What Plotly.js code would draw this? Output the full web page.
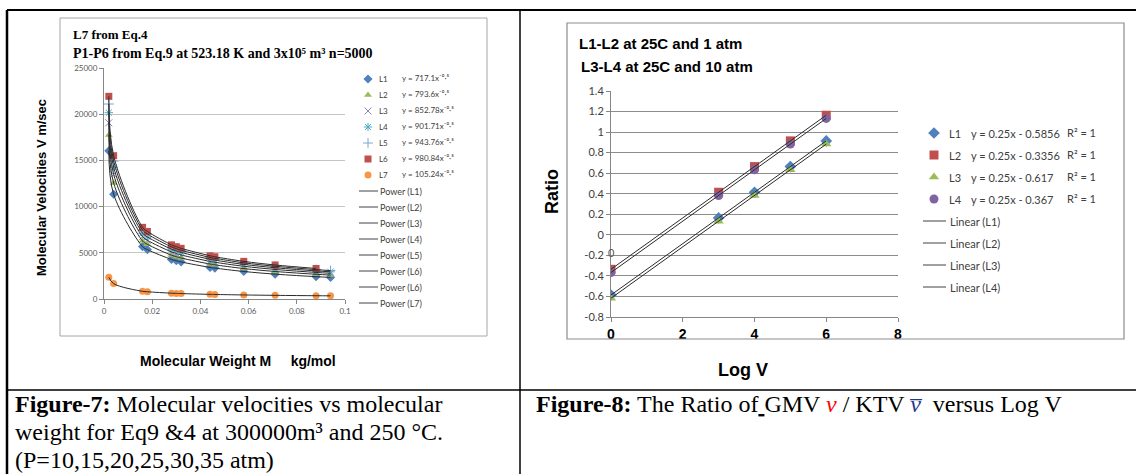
<!DOCTYPE html>
<html><head><meta charset="utf-8">
<script src="https://cdn.plot.ly/plotly-3.0.1.min.js"></script>
<style>html,body{margin:0;padding:0;background:#fff;}#chart{width:1136px;height:474px;}</style>
</head><body><div id="chart"></div>
<script>
// ---------------- Figure-7 data ----------------
const molWeight   = [0.002,0.004,0.016,0.018,0.028,0.030,0.032,0.044,0.046,0.058,0.071,0.088,0.094];
const molWeightL6 = [0.002,0.004,0.016,0.018,0.028,0.030,0.032,0.044,0.046,0.058,0.071,0.088];
const velL1 = [16035,11338,5669,5345,4285,4140,4009,3418,3344,2977,2691,2417,2339];
const velL2 = [17746,12548,6274,5915,4743,4582,4436,3783,3701,3295,2978,2675,2589];
const velL3 = [19069,13483,6742,6357,5096,4924,4767,4065,3977,3541,3200,2875,2782];
const velL4 = [20163,14257,7129,6721,5389,5207,5041,4298,4205,3744,3384,3040,2941];
const velL5 = [21104,14922,7461,7035,5640,5449,5276,4499,4401,3918,3542,3181,3079];
const velL6 = [21933,15508,7755,7311,5862,5663,5483,4676,4574,4072,3681,3306];
const velL7 = [2353,1664,832,784,629,608,588,502,491,437,395,355,343];
const fig7Names = ['L1','L2','L3','L4','L5','L6','L7'];
const fig7Equations = ['y = 717.1x⁻⁰·⁵','y = 793.6x⁻⁰·⁵','y = 852.78x⁻⁰·⁵',
  'y = 901.71x⁻⁰·⁵','y = 943.76x⁻⁰·⁵','y = 980.84x⁻⁰·⁵','y = 105.24x⁻⁰·⁵'];
const fig7TrendNames = ['Power (L1)','Power (L2)','Power (L3)','Power (L4)','Power (L5)','Power (L6)','Power (L6)','Power (L7)'];
const fig7XTicks = [0,0.02,0.04,0.06,0.08,0.1];
const fig7XTickText = ['0','0.02','0.04','0.06','0.08','0.1'];
const fig7YTicks = [0,5000,10000,15000,20000,25000];

// ---------------- Figure-8 data ----------------
const logV = [0,3,4,5,6];
const ratioL1 = [-0.5856,0.1644,0.4144,0.6644,0.9144];
const ratioL2 = [-0.3356,0.4144,0.6644,0.9144,1.1644];
const ratioL3 = [-0.617,0.133,0.383,0.633,0.883];
const ratioL4 = [-0.367,0.383,0.633,0.883,1.133];
const fig8Names = ['L1','L2','L3','L4'];
const fig8Equations = ['y = 0.25x - 0.5856','y = 0.25x - 0.3356','y = 0.25x - 0.617','y = 0.25x - 0.367'];
const fig8R2 = ['R² = 1','R² = 1','R² = 1','R² = 1'];
const fig8TrendNames = ['Linear (L1)','Linear (L2)','Linear (L3)','Linear (L4)'];
const fig8XTicks = [0,2,4,6,8];
const fig8YTicks = [-0.8,-0.6,-0.4,-0.2,0,0.2,0.4,0.6,0.8,1,1.2,1.4];
const fig8YTickText = ['-0.8','-0.6','-0.4','-0.2','0','0.2','0.4','0.6','0.8','1','1.2','1.4'];
const fig8LabelX = [0];
const fig8LabelY = [-0.17];
const fig8LabelText = ['0'];

// ---------------- styles ----------------
const SANS = 'Lato, "Noto Sans", "DejaVu Sans", sans-serif';
const ARIAL = '"Liberation Sans", Arial, sans-serif';
const SERIF = '"Liberation Serif", "Times New Roman", serif';
const fig7Styles = [
  {symbol:'diamond', color:'#4F81BD', size:7},
  {symbol:'triangle-up', color:'#9BBB59', size:7},
  {symbol:'x-thin-open', color:'#9384C0', size:7, open:true},
  {symbol:'asterisk-open', color:'#4BACC6', size:7, open:true},
  {symbol:'cross-thin-open', color:'#7FA4D4', size:7, open:true},
  {symbol:'square', color:'#C0504D', size:7},
  {symbol:'circle', color:'#F79646', size:7}
];
const fig8Styles = [
  {symbol:'diamond', color:'#4F81BD', size:9},
  {symbol:'square', color:'#C0504D', size:9},
  {symbol:'triangle-up', color:'#9BBB59', size:9},
  {symbol:'circle', color:'#8064A2', size:9}
];
function mk(s){ return {symbol:s.symbol, size:s.size, color:s.color, line:{color:s.color, width:s.open?1:0}}; }

const fig7X = [molWeight,molWeight,molWeight,molWeight,molWeight,molWeightL6,molWeight];
const fig7Y = [velL1,velL2,velL3,velL4,velL5,velL6,velL7];
const fig8Y = [ratioL1,ratioL2,ratioL3,ratioL4];

const traces = [];
fig7Y.forEach((ys,i)=>traces.push({type:'scatter',mode:'markers',x:fig7X[i],y:ys,xaxis:'x',yaxis:'y',marker:mk(fig7Styles[i]),hoverinfo:'skip'}));
fig7Y.forEach((ys,i)=>traces.push({type:'scatter',mode:'lines',x:fig7X[i],y:ys,xaxis:'x',yaxis:'y',line:{color:'#2b2b2b',width:1,shape:'spline',smoothing:1},hoverinfo:'skip'}));
fig8Y.forEach((ys,i)=>traces.push({type:'scatter',mode:'markers',x:logV,y:ys,xaxis:'x2',yaxis:'y2',marker:mk(fig8Styles[i]),hoverinfo:'skip'}));
fig8Y.forEach((ys,i)=>traces.push({type:'scatter',mode:'lines',x:logV,y:ys,xaxis:'x2',yaxis:'y2',line:{color:'#2b2b2b',width:1},hoverinfo:'skip'}));

// legend keys on page-pixel overlay axes (x3/y3)
const L7row = i => 79 + 16*i;
const L8row = j => 133 + 22*j;
fig7Styles.forEach((s,i)=>traces.push({type:'scatter',mode:'markers',x:[368],y:[L7row(i)],xaxis:'x3',yaxis:'y3',marker:mk(s),hoverinfo:'skip',cliponaxis:false}));
fig8Styles.forEach((s,j)=>traces.push({type:'scatter',mode:'markers',x:[934],y:[L8row(j)],xaxis:'x3',yaxis:'y3',marker:mk(s),hoverinfo:'skip',cliponaxis:false}));

const ann = [];
function txt(x,y,text,font,xa,extra){ ann.push(Object.assign({xref:'x3',yref:'y3',x:x,y:y,text:text,showarrow:false,xanchor:xa||'left',yanchor:'middle',borderpad:0,borderwidth:0,font:font},extra||{})); }

// titles
txt(73,34,'<b>L7 from Eq.4</b>',{family:SERIF,size:13,color:'#000'});
txt(73,53,'<b>P1-P6 from Eq.9 at 523.18 K and 3x10⁵ m³ n=5000</b>',{family:SERIF,size:14,color:'#000'});
txt(579,43,'<b>L1-L2 at 25C and 1 atm</b>',{family:ARIAL,size:15,color:'#000'});
txt(581,66,'<b>L3-L4 at 25C and 10 atm</b>',{family:ARIAL,size:15,color:'#000'});
// axis titles
txt(41,188,'<b>Molecular Velocities V m/sec</b>',{family:ARIAL,size:13,color:'#000'},'center',{textangle:-90});
txt(238,361,'<b>Molecular Weight M\u00a0\u00a0\u00a0\u00a0\u00a0kg/mol</b>',{family:ARIAL,size:14,color:'#000'},'center');
txt(552,192,'<b>Ratio</b>',{family:ARIAL,size:18,color:'#000'},'center',{textangle:-90});
txt(743,370,'<b>Log V</b>',{family:ARIAL,size:18,color:'#000'},'center');
// data label
fig8LabelX.forEach((v,k)=>ann.push({xref:'x2',yref:'y2',x:v,y:fig8LabelY[k],text:fig8LabelText[k],showarrow:false,xanchor:'center',yanchor:'middle',font:{family:SANS,size:11,color:'#595959'}}));
// left legend
fig7Names.forEach((n,i)=>{ txt(379,L7row(i),n,{family:SANS,size:8,color:'#404040'}); txt(402,L7row(i)-1,fig7Equations[i],{family:SANS,size:8,color:'#404040'}); });
fig7TrendNames.forEach((n,k)=>txt(380,L7row(7+k),n,{family:SANS,size:9,color:'#404040'}));
// right legend
fig8Names.forEach((n,j)=>{ txt(949,L8row(j),n,{family:SANS,size:11,color:'#404040'}); txt(971,L8row(j),fig8Equations[j],{family:SANS,size:11,color:'#404040'}); txt(1067,L8row(j)-1,fig8R2[j],{family:SANS,size:11,color:'#404040'}); });
fig8TrendNames.forEach((n,k)=>txt(950,L8row(4+k),n,{family:SANS,size:11,color:'#404040'}));
// captions
txt(15,404,'<b>Figure-7:</b> Molecular velocities vs molecular',{family:SERIF,size:24,color:'#000'});
txt(15,432,'weight for Eq9 &amp;4 at 300000m³ and 250 °C.',{family:SERIF,size:24,color:'#000'});
txt(15,459.5,'(P=10,15,20,25,30,35 atm)',{family:SERIF,size:24,color:'#000'});
txt(536,404,'<b>Figure-8:</b> The Ratio of<u>\u00a0</u>GMV <span style="color:#ff0000"><i>v</i></span> / KTV <span style="color:#1f3a8a"><i>v\u0305</i></span>\u00a0 versus Log V',{family:SERIF,size:24,color:'#000'});

const shapes = [];
function ln(x0,y0,x1,y1,color,w){ shapes.push({type:'line',xref:'x3',yref:'y3',x0:x0,y0:y0,x1:x1,y1:y1,line:{color:color,width:w}}); }
// table borders
ln(7,10,1136,10,'#000',2);
ln(7,10,7,474,'#000',2.5);
ln(520,10,520,474,'#000',1.5);
ln(7,390,1136,390,'#000',1.5);
// chart boxes
shapes.push({type:'rect',xref:'x3',yref:'y3',x0:60,y0:18,x1:487,y1:336,line:{color:'#a6a6a6',width:1}});
shapes.push({type:'rect',xref:'x3',yref:'y3',x0:567,y0:23,x1:1124,y1:339,line:{color:'#8c8c8c',width:1.2}});
// legend line keys
fig7TrendNames.forEach((n,k)=>ln(359,L7row(7+k),378,L7row(7+k),'#404040',1));
fig8TrendNames.forEach((n,k)=>ln(923,L8row(4+k),946,L8row(4+k),'#404040',1));

const W=1136,H=474;
const layout = {
  width:W,height:H,margin:{l:0,r:0,t:0,b:0},showlegend:false,
  paper_bgcolor:'#ffffff',plot_bgcolor:'rgba(0,0,0,0)',
  xaxis:{domain:[104/W,345/W],range:[0,0.1],tickvals:fig7XTicks,ticktext:fig7XTickText,showgrid:false,zeroline:false,
    showline:true,linecolor:'#868686',linewidth:1,ticks:'outside',ticklen:4,tickcolor:'#868686',
    tickfont:{family:SANS,size:8,color:'#595959'},anchor:'y'},
  yaxis:{domain:[1-299/H,1-68/H],range:[0,25000],tickvals:fig7YTicks,tickformat:'d',showgrid:true,gridcolor:'#c4c4c4',zeroline:false,
    showline:true,linecolor:'#868686',linewidth:1,ticks:'outside',ticklen:4,tickcolor:'#868686',
    tickfont:{family:SANS,size:8,color:'#595959'},anchor:'x'},
  xaxis2:{domain:[611/W,898/W],range:[0,8],tickvals:fig8XTicks,showgrid:false,zeroline:false,
    showline:true,linecolor:'#868686',linewidth:1,ticks:'outside',ticklen:4,tickcolor:'#868686',
    tickfont:{family:ARIAL,size:14,color:'#000',weight:'bold'},anchor:'y2'},
  yaxis2:{domain:[1-317/H,1-91/H],range:[-0.8,1.4],tickvals:fig8YTicks,ticktext:fig8YTickText,showgrid:true,gridcolor:'#8c8c8c',zeroline:false,
    showline:true,linecolor:'#868686',linewidth:1,ticks:'outside',ticklen:4,tickcolor:'#868686',
    tickfont:{family:SANS,size:11,color:'#404040'},anchor:'x2'},
  xaxis3:{domain:[0,1],range:[0,W],visible:false,fixedrange:true,anchor:'y3'},
  yaxis3:{domain:[0,1],range:[H,0],visible:false,fixedrange:true,anchor:'x3'},
  annotations:ann,shapes:shapes
};
Plotly.newPlot('chart',traces,layout,{staticPlot:true,displayModeBar:false});
</script></body></html>
